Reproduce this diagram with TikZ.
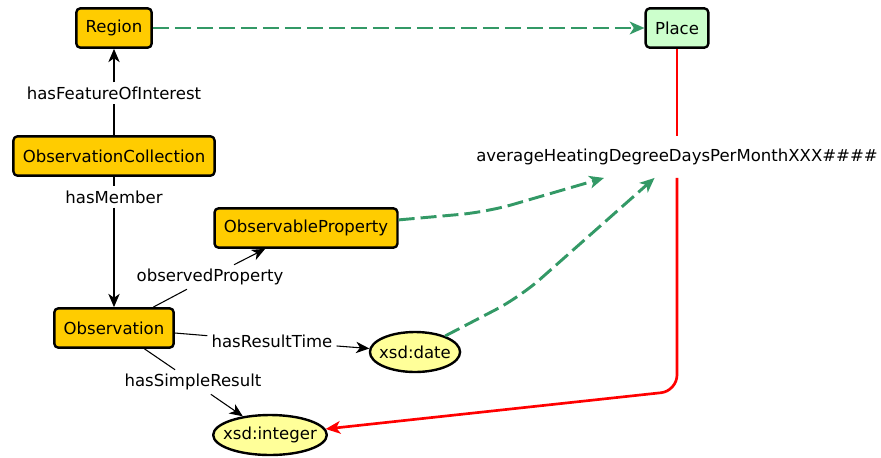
\documentclass[tikz,border=0pt]{standalone}
\usepackage{fontspec}
\setmainfont{DejaVu Sans}
\usetikzlibrary{arrows.meta,shapes.geometric}
\definecolor{goldfill}{HTML}{FFCC00}
\definecolor{placefill}{HTML}{CCFFCC}
\definecolor{litfill}{HTML}{FFFF99}
\definecolor{dashgreen}{HTML}{339966}
\begin{document}
\begin{tikzpicture}[x=0.75pt,y=-0.75pt,line join=round,font=\fontsize{12.4}{15}\selectfont,
  klass/.style={draw,line width=1.8pt,rounded corners=3pt,fill=goldfill,minimum height=29.5pt,inner xsep=7pt},
  literal/.style={draw,ellipse,line width=1.8pt,fill=litfill,minimum height=30pt,inner xsep=-3pt},
  lbl/.style={inner xsep=3pt,inner ysep=3pt},
  prop/.style={line width=0.8pt},
  proparrow/.style={prop,-{Stealth[length=10pt,width=8.5pt,inset=3pt]}},
  eqv/.style={dashgreen,line width=2.2pt,dash pattern=on 12pt off 4.5pt,-{Stealth[length=11pt,width=9.5pt,inset=3pt]}},
  val/.style={red,line width=2pt}]
  \useasboundingbox (0,0) rectangle (881,457);
  % classes
  \node[klass] (region) at (114,28) {Region};
  \node[klass,fill=placefill] (place) at (677,28) {Place};
  \node[klass] (coll) at (114,156) {ObservationCollection};
  \node[klass] (oprop) at (306,228) {ObservableProperty};
  \node[klass] (obs) at (114,328) {Observation};
  \node[literal] (date) at (415,352) {xsd:date};
  \node[literal,inner xsep=-5pt] (int) at (270,435) {xsd:integer};
  % edge labels
  \node[lbl] (foi) at (114,93) {hasFeatureOfInterest};
  \node[lbl] (member) at (114,197) {hasMember};
  \node[lbl] (observed) at (210,277) {observedProperty};
  \node[lbl] (restime) at (272,341) {hasResultTime};
  \node[lbl] (simple) at (193,382) {hasSimpleResult};
  \node[inner xsep=2pt,inner ysep=9.5pt] (hdd) at (677,157) {averageHeatingDegreeDaysPerMonthXXX\#\#\#\#};
  \coordinate (bend) at (677,391);
  % properties
  \draw[prop] (coll) -- (foi);
  \draw[proparrow] (foi) -- (region);
  \draw[prop] (coll) -- (member);
  \draw[proparrow] (member) -- (obs);
  \draw[prop] (obs) -- (observed);
  \draw[proparrow] (observed) -- (oprop);
  \draw[prop] (obs) -- (restime);
  \draw[proparrow] (restime) -- (date);
  \draw[prop] (obs) -- (simple);
  \draw[proparrow] (simple) -- (int);
  % mappings
  \draw[eqv] (region) -- (place);
  \draw[eqv,rounded corners=20pt] (oprop.5) -- (487,212) -- (hdd.196);
  \draw[eqv,rounded corners=20pt] (date.28) -- (520,297) -- (hdd.223);
  \draw[val] (place) -- (hdd);
  \draw[val,-{Stealth[length=11pt,width=9.5pt,inset=3pt]},rounded corners=12pt] (hdd) -- (bend) -- (int);
\end{tikzpicture}
\end{document}
